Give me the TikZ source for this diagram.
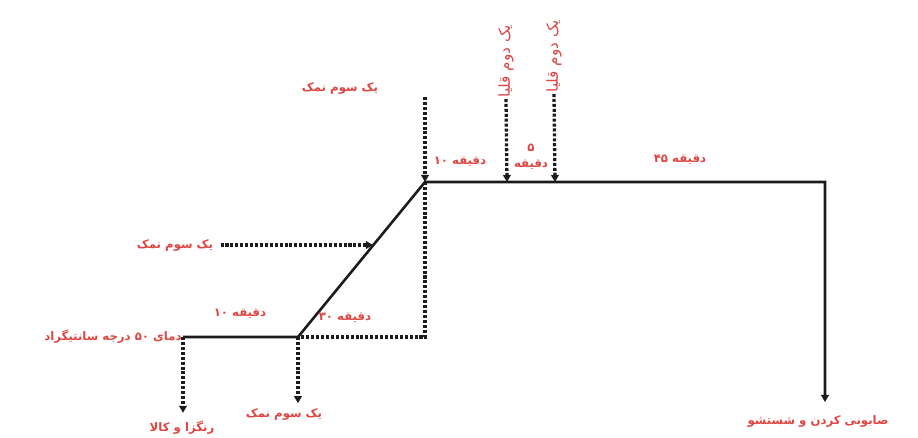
\documentclass[tikz,border=0pt]{standalone}
\usepackage{fontspec}
\usepackage{xcolor}
\usetikzlibrary{arrows.meta,positioning}
\TeXXeTstate=1
\newfontfamily\arabicfont[Script=Arabic]{DejaVu Sans}
\definecolor{dyered}{RGB}{222,70,66}
\definecolor{processblack}{RGB}{28,28,28}

\begin{document}
\begin{tikzpicture}[x=0.03cm, y=-0.03cm,
  lbl/.style={text=dyered, font=\arabicfont\bfseries\fontsize{10}{12}\selectfont, inner sep=1pt},
  vlbl/.style={text=dyered, font=\arabicfont\fontsize{13}{15}\selectfont, inner sep=1pt, rotate=90, anchor=west},
  mainline/.style={line width=2.2pt, color=processblack},
  dotline/.style={line width=2.8pt, color=processblack, dash pattern=on 2.6pt off 1.6pt},
  arrowtip/.style={-{Triangle[length=6pt,width=6.5pt]}}]
\useasboundingbox[fill=white] (0,0) rectangle (918,437);
% process path
\coordinate (start) at (183,337);
\coordinate (heat) at (298,337);
\coordinate (top) at (425,182);
\coordinate (turn) at (825,182);
\coordinate (corner) at (425,337);
\coordinate (alkonea) at (507,182);
\coordinate (alktwoa) at (555,182);
\coordinate (rampmid) at (373,245);
\node[lbl, anchor=east] (temp) at (start) {\beginR دمای ۵۰ درجه سانتیگراد\endR};
\node[lbl] (wash) at (818,421) {\beginR صابونی کردن و شستشو\endR};
\draw[mainline, arrowtip, shorten >=10pt] (start) -- (heat) -- (top) -- (turn) -- (turn |- wash.north);
% time labels
\node[lbl] (tena) at (240,314) {\beginR دقیقه ۱۰\endR};
\node[lbl] (thirty) at (345,318) {\beginR دقیقه ۳۰\endR};
\node[lbl] (tenb) at (460,162) {\beginR دقیقه ۱۰\endR};
\node[lbl, align=center] (five) at (531,157) {\beginR ۵\endR\\[2pt]\beginR دقیقه\endR};
\node[lbl] (fortyfive) at (680,160) {\beginR دقیقه ۴۵\endR};
% salt and alkali additions
\node[lbl] (saltone) at (340,88) {\beginR یک سوم نمک\endR};
\node[lbl] (salttwo) at (175,245) {\beginR یک سوم نمک\endR};
\node[lbl] (saltthree) at (284,414) {\beginR یک سوم نمک\endR};
\node[lbl] (dye) at (182,428) {\beginR رنگزا و کالا\endR};
\node[vlbl] (alkone) at (506,99) {\beginR یک دوم قلیا\endR};
\node[vlbl] (alktwo) at (554,94) {\beginR یک دوم قلیا\endR};
\coordinate (saltonetop) at (425,97);
\draw[dotline, arrowtip] (saltonetop) -- (top);
\draw[dotline] (top) -- (corner) -- (heat);
\draw[dotline, arrowtip] (alkone.west) -- (alkonea);
\draw[dotline, arrowtip] (alktwo.west) -- (alktwoa);
\draw[dotline, arrowtip] (salttwo.east) ++(6,0) -- (rampmid);
\draw[dotline, arrowtip, shorten >=6pt] (start) -- (start |- dye.north);
\draw[dotline, arrowtip, shorten >=3pt] (heat) -- (heat |- saltthree.north);
\end{tikzpicture}
\end{document}
